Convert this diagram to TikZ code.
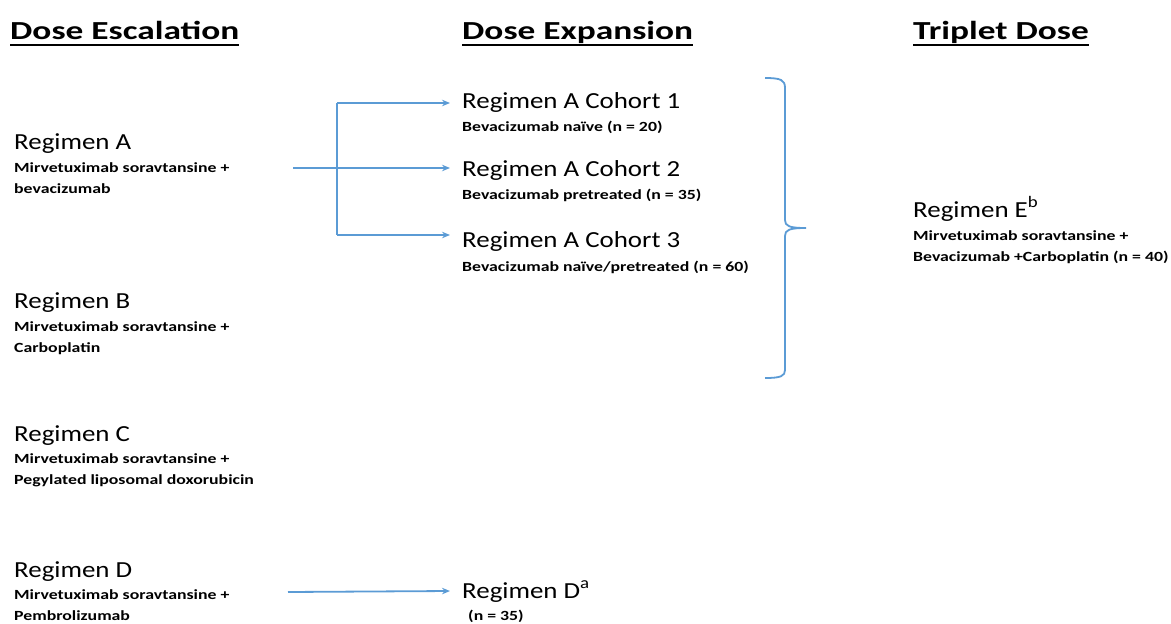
\documentclass[tikz,border=0pt]{standalone}
\usepackage{fontspec}
\setmainfont{Carlito}
\newfontfamily\headfam{Carlito}[FakeStretch=1.36]
\newfontfamily\regfam{Carlito}[FakeStretch=1.17]
\newfontfamily\subfam{Carlito}[FakeStretch=1.27]
\usetikzlibrary{arrows.meta}
\definecolor{lnblue}{HTML}{5B9BD5}
\tikzset{
  x=1pt, y=-1pt,
  txt/.style={inner sep=0pt, anchor=base west},
  head/.style={txt, font=\headfam\bfseries\fontsize{26}{30}\selectfont},
  reg/.style={txt, font=\regfam\fontsize{23}{27}\selectfont},
  sub/.style={txt, font=\subfam\bfseries\fontsize{14}{16}\selectfont},
  ul/.style={line width=2.5pt, black},
  conn/.style={line width=1.8pt, lnblue},
  arr/.style={conn, -{Stealth[length=8pt,width=6.5pt]}},
}
\begin{document}
\begin{tikzpicture}
\useasboundingbox (0,0) rectangle (1171,624);
% headings
\node[head] (h1) at (10,39) {Dose Escalation};
\node[head] (h2) at (462,39) {Dose Expansion};
\node[head] (h3) at (913,39) {Triplet Dose};
\foreach \h in {h1,h2,h3}
  \draw[ul] ([yshift=-6pt]\h.base west) -- ([yshift=-6pt]\h.base east);
% dose escalation
\node[reg] (ra) at (14,149) {Regimen A};
\node[sub] (ra1) at (14,172) {Mirvetuximab soravtansine +};
\node[sub] (ra2) at (14,193) {bevacizumab};
\node[reg] (rb) at (14,308) {Regimen B};
\node[sub] (rb1) at (14,331) {Mirvetuximab soravtansine +};
\node[sub] (rb2) at (14,352) {Carboplatin};
\node[reg] (rc) at (14,441) {Regimen C};
\node[sub] (rc1) at (14,463) {Mirvetuximab soravtansine +};
\node[sub] (rc2) at (14,484) {Pegylated liposomal doxorubicin};
\node[reg] (rd) at (14,577) {Regimen D};
\node[sub] (rd1) at (14,599) {Mirvetuximab soravtansine +};
\node[sub] (rd2) at (14,620) {Pembrolizumab};
% dose expansion
\node[reg] (c1) at (462,108) {Regimen A Cohort 1};
\node[sub] (c1s) at (462,131) {Bevacizumab naïve (n = 20)};
\node[reg] (c2) at (462,176) {Regimen A Cohort 2};
\node[sub] (c2s) at (462,199) {Bevacizumab pretreated (n = 35)};
\node[reg] (c3) at (462,247) {Regimen A Cohort 3};
\node[sub] (c3s) at (462,271) {Bevacizumab naïve/pretreated (n = 60)};
\node[reg] (dd) at (462,598) {Regimen D\textsuperscript{a}};
\node[sub] (dds) at (468,620) {(n = 35)};
% triplet
\node[reg] (re) at (913,217) {Regimen E\textsuperscript{b}};
\node[sub] (re1) at (913,240) {Mirvetuximab soravtansine +};
\node[sub] (re2) at (913,261) {Bevacizumab +Carboplatin (n = 40)};
% connectors
\coordinate (aout) at (293,168);
\coordinate (st) at (337,103);
\coordinate (sb) at (337,235);
\coordinate (t1) at (450,103);
\coordinate (t2) at (450,168);
\coordinate (t3) at (450,235);
\coordinate (dout) at (288,592);
\coordinate (td) at (450,591);
\draw[arr] (aout) -- (t2);
\draw[conn] (st) -- (sb);
\draw[arr] (st) -- (t1);
\draw[arr] (sb) -- (t3);
\draw[arr] (dout) -- (td);
% brace
\draw[conn] (765,78) .. controls (781,78) and (785,80) .. (785,88) -- (785,220)
  .. controls (785,226) and (789,228) .. (806,228)
  .. controls (789,228) and (785,230) .. (785,236) -- (785,370)
  .. controls (785,376) and (781,378) .. (765,378);
\end{tikzpicture}
\end{document}
